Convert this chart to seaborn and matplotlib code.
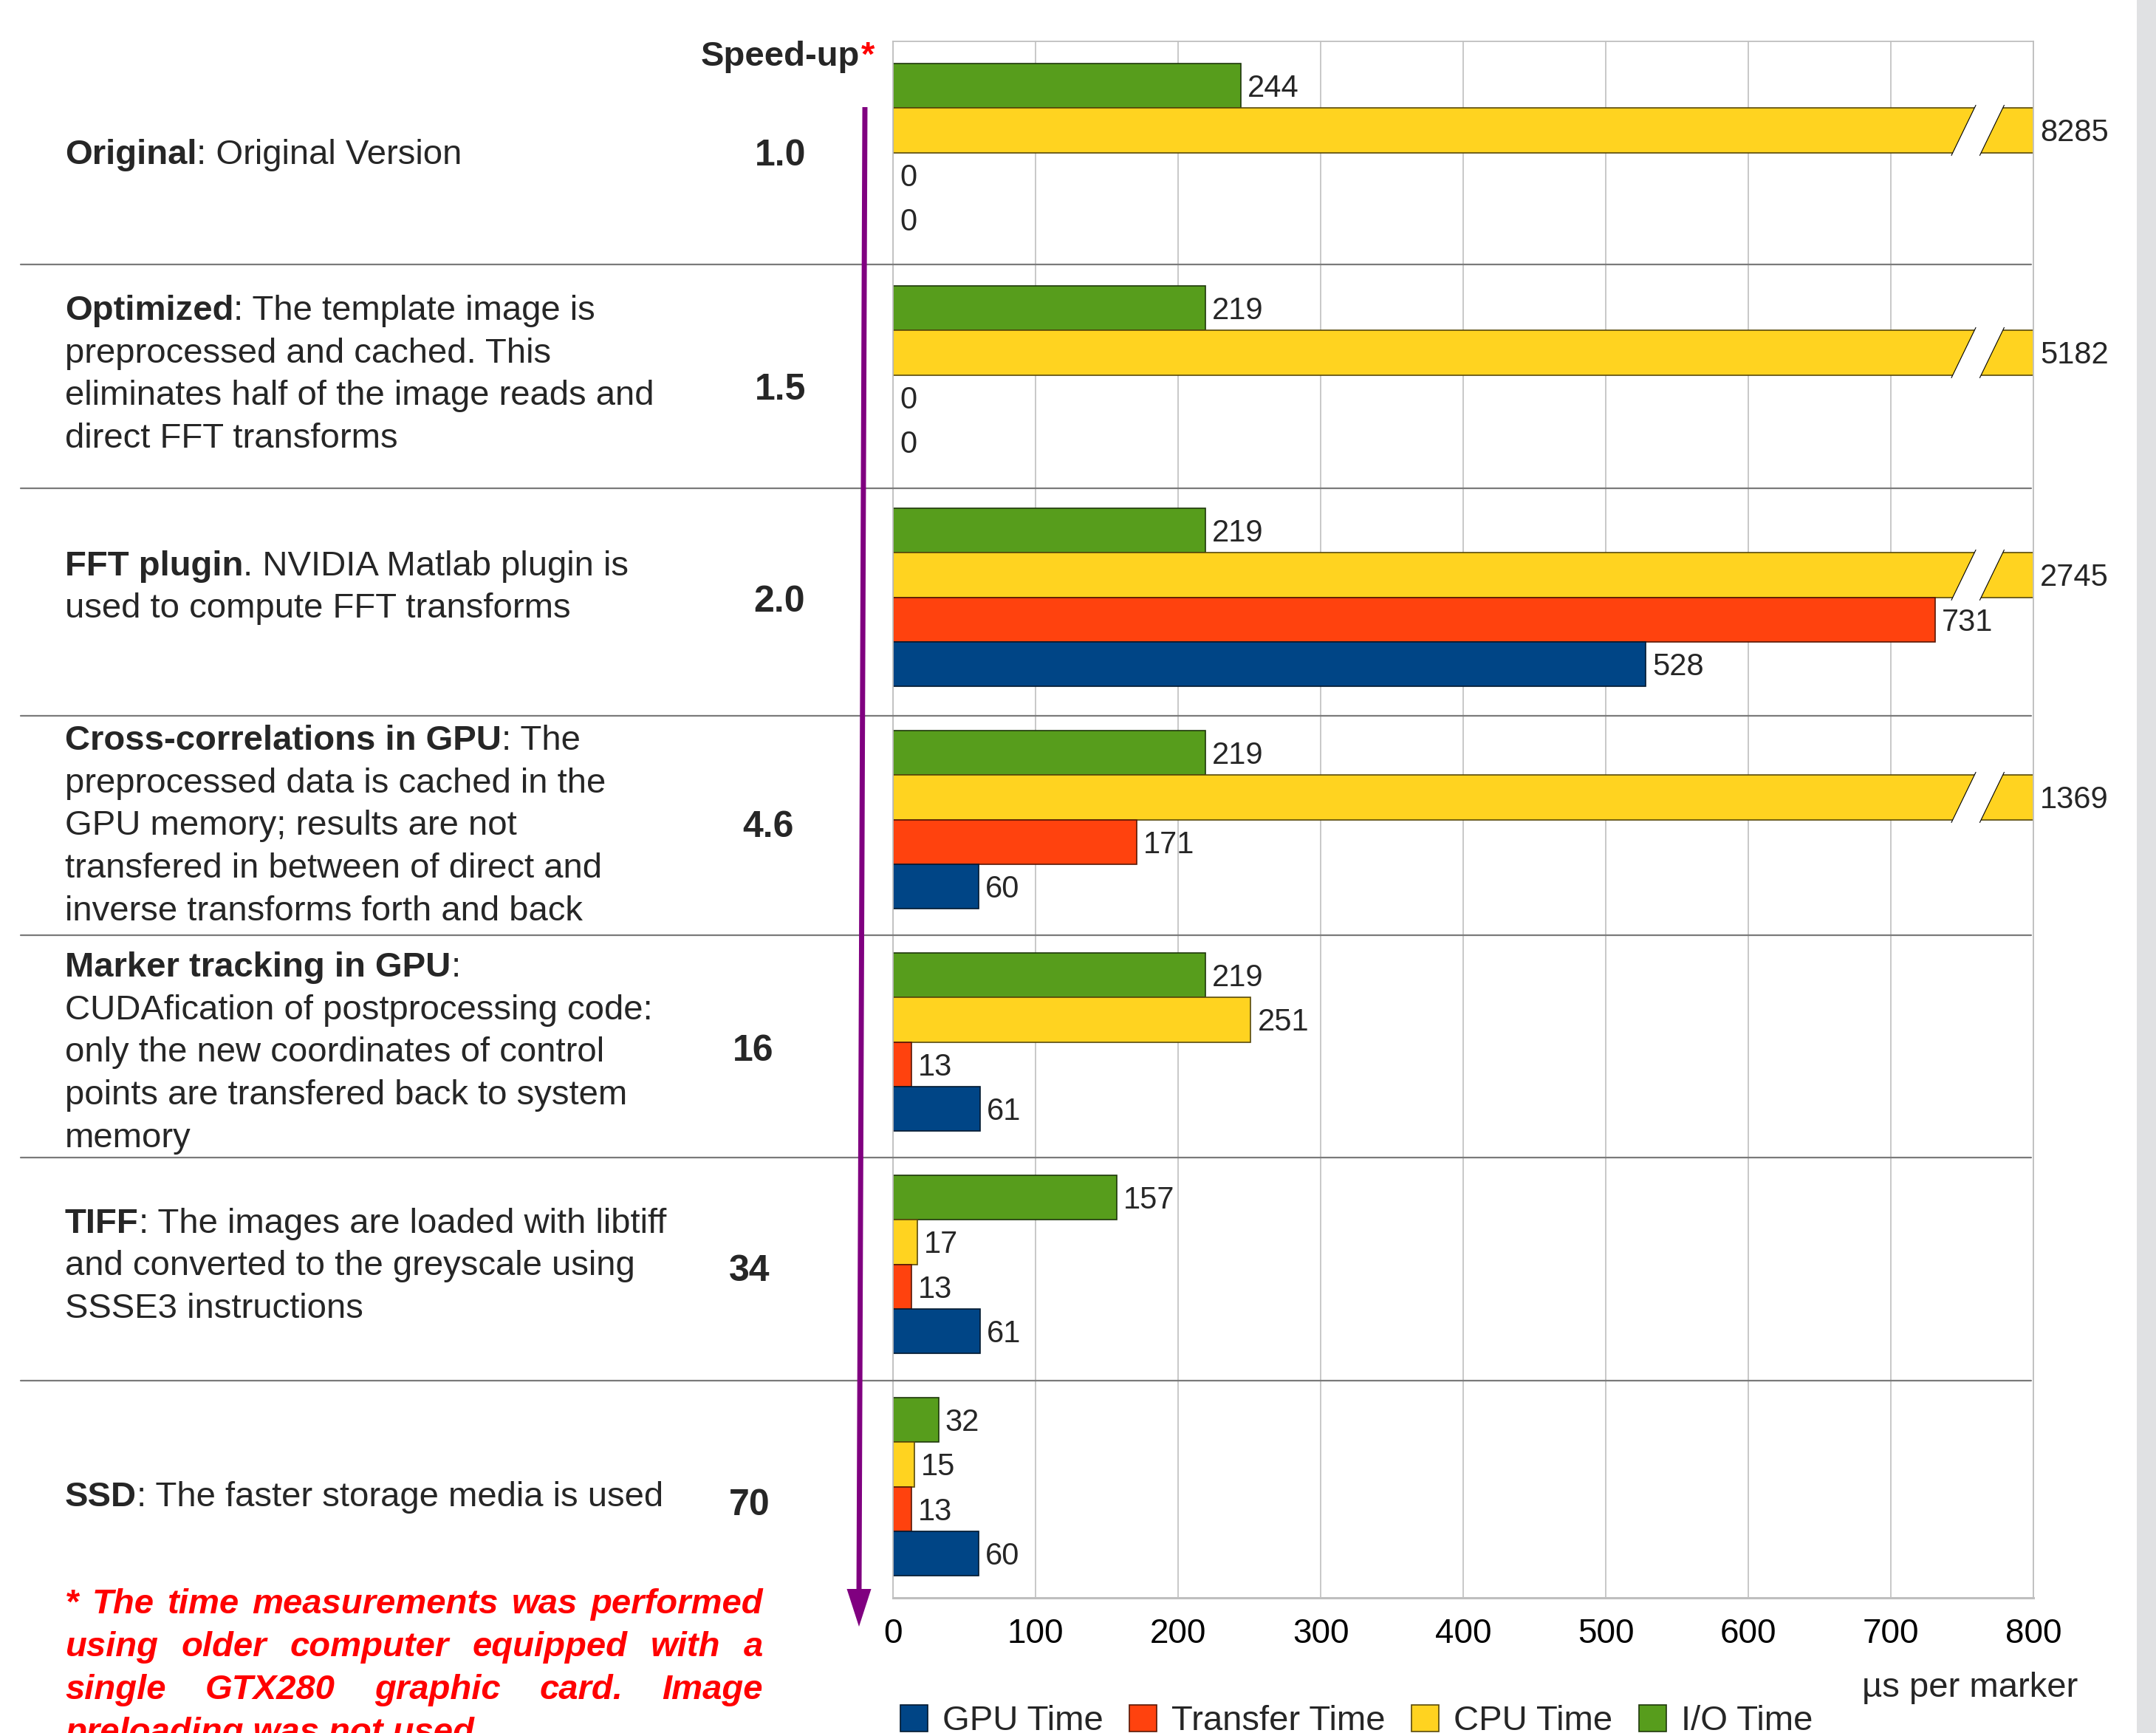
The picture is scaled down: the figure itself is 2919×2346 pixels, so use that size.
import numpy as np
import pandas as pd
import matplotlib
matplotlib.use("Agg")
import matplotlib.pyplot as plt
import matplotlib.transforms as mtransforms
from matplotlib.patches import Patch, Polygon, Rectangle
from matplotlib.lines import Line2D
import seaborn as sns

# ------------------------------------------------------------------ data
groups = ["Original", "Optimized", "FFT plugin", "Cross-correlations in GPU",
          "Marker tracking in GPU", "TIFF", "SSD"]
io_time = [244, 219, 219, 219, 219, 157, 32]
cpu_time = [8285, 5182, 2745, 1369, 251, 17, 15]
transfer_time = [0, 0, 731, 171, 13, 13, 13]
gpu_time = [0, 0, 528, 60, 61, 61, 60]
speedup = ["1.0", "1.5", "2.0", "4.6", "16", "34", "70"]

series_order = ["I/O Time", "CPU Time", "Transfer Time", "GPU Time"]
legend_order = ["GPU Time", "Transfer Time", "CPU Time", "I/O Time"]
series_colors = {"GPU Time": "#004586", "Transfer Time": "#ff420e",
                 "CPU Time": "#ffd320", "I/O Time": "#579d1c"}
x_ticks = [0, 100, 200, 300, 400, 500, 600, 700, 800]
x_max = 800
x_label = "µs per marker"
speed_header = "Speed-up"

desc_rest = [
    [": Original Version"],
    [": The template image is", "preprocessed and cached. This",
     "eliminates half of the image reads and", "direct FFT transforms"],
    [". NVIDIA Matlab plugin is", "used to compute FFT transforms"],
    [": The", "preprocessed data is cached in the", "GPU memory; results are not",
     "transfered in between of direct and", "inverse transforms forth and back"],
    [":", "CUDAfication of postprocessing code:", "only the new coordinates of control",
     "points are transfered back to system", "memory"],
    [": The images are loaded with libtiff", "and converted to the greyscale using",
     "SSSE3 instructions"],
    [": The faster storage media is used"],
]
footnote_lines = ["* The time measurements was performed",
                  "using older computer equipped with a",
                  "single GTX280 graphic card. Image",
                  "preloading was not used."]

# ------------------------------------------------------------------ layout (pixels)
W, H = 2919, 2346
AX_L, AX_R, AX_T, AX_B = 1209, 2753, 56, 2163
desc_x = 88
desc_dy = [-1, -5, -18, 4, 10, -2, 10]
speed_x = [1022, 1022, 1020, 1005, 992, 987, 987]
speed_dy = [0, 16, 2, 6, 8, 5, 21]
sep_dy = [1, 3, 10, 6, 6, 7]
line_step = 57.7


def fx(x):
    return x / W


def fy(y):
    return 1 - y / H


def darker(c, f=0.35):
    r, g, b = matplotlib.colors.to_rgb(c)
    return (r * f, g * f, b * f)


sns.set_style("white")
plt.rcParams["font.family"] = ["Liberation Sans", "DejaVu Sans"]

fig = plt.figure(figsize=(W / 100, H / 100), dpi=100)
fig.patch.set_facecolor("white")
ax = fig.add_axes([fx(AX_L), fy(AX_B), (AX_R - AX_L) / W, (AX_B - AX_T) / H])

wide = pd.DataFrame({"group": groups, "I/O Time": io_time, "CPU Time": cpu_time,
                     "Transfer Time": transfer_time, "GPU Time": gpu_time})
df = wide.melt(id_vars="group", var_name="series", value_name="value")

sns.barplot(data=df, x="value", y="group", hue="series", hue_order=series_order,
            order=groups, palette=series_colors, orient="h", width=0.8,
            dodge=True, saturation=1, errorbar=None, legend=False,
            linewidth=1.2, ax=ax)

ax.set_xlim(0, x_max)
ax.set_ylim(len(groups) - 0.5, -0.5)
ax.set_xlabel("")
ax.set_ylabel("")
ax.set_yticks([])
ax.set_xticks(x_ticks)
ax.tick_params(axis="x", length=8.6, width=1.3, color="#bfbfbf",
               labelsize=33, pad=11, labelcolor="black")
ax.grid(axis="x", color="#c4c4c4", lw=1.3)
ax.set_axisbelow(True)
for s in ax.spines.values():
    s.set_color("#bfbfbf")
    s.set_linewidth(1.3)
ax.spines["bottom"].set_linewidth(2.2)

series_vals = {"I/O Time": io_time, "CPU Time": cpu_time,
               "Transfer Time": transfer_time, "GPU Time": gpu_time}

cap_pt = 0.716 * 30
for cont, name in zip(ax.containers, series_order):
    vals = series_vals[name]
    for bar, v in zip(cont, vals):
        bar.set_edgecolor(darker(series_colors[name]))
        if v == 0:
            bar.set_linewidth(0)
        yc = bar.get_y() + bar.get_height() / 2
        ax.annotate(str(v), xy=(min(v, x_max), yc), xytext=(6.5, -cap_pt / 2),
                    textcoords="offset points", va="baseline", ha="left",
                    fontsize=30, annotation_clip=False, clip_on=False)
        if v > x_max:
            h = bar.get_height()
            yb = yc + h / 2 + 0.013
            yt = yc - h / 2 - 0.013
            poly = Polygon([(742.5, yb), (759.6, yt), (779.5, yt), (762.4, yb)],
                           closed=True, facecolor="white", edgecolor="none",
                           zorder=5, clip_on=False)
            ax.add_patch(poly)
            for (xa, xb) in [(742.5, 759.6), (762.4, 779.5)]:
                ax.plot([xa, xb], [yb, yt], color="black", lw=0.8, zorder=6,
                        clip_on=False)

# group separators
blend = mtransforms.blended_transform_factory(fig.transFigure, ax.transData)
grp_px = (AX_B - AX_T) / len(groups)
for k in range(len(groups) - 1):
    yk = k + 0.5 + sep_dy[k] / grp_px
    ax.plot([fx(28), fx(2750)], [yk, yk], transform=blend,
            color="#7a7a7a", lw=1.6, clip_on=False, zorder=3)

# text helpers
fig.canvas.draw()
renderer = fig.canvas.get_renderer()


def text_w(s, **kw):
    t = fig.text(0, 0, s, **kw)
    w = t.get_window_extent(renderer).width
    t.remove()
    return w


def gy(i):
    return H - ax.transData.transform((0, i))[1]


desc_fs = 34
desc_cap = 0.716 * desc_fs * 100 / 72
for i, (title, rest) in enumerate(zip(groups, desc_rest)):
    n = len(rest)
    cy = gy(i) + desc_dy[i]
    for j, line in enumerate(rest):
        base = cy + (j - (n - 1) / 2) * line_step + desc_cap / 2
        x = desc_x
        if j == 0:
            fig.text(fx(x), fy(base), title, fontsize=desc_fs, fontweight="bold",
                     va="baseline", ha="left")
            x += text_w(title, fontsize=desc_fs, fontweight="bold")
        fig.text(fx(x), fy(base), line, fontsize=desc_fs, va="baseline", ha="left")

# speed-up column
sp_fs = 36
sp_cap = 0.716 * sp_fs * 100 / 72
for i, s in enumerate(speedup):
    base = gy(i) + speed_dy[i] + sp_cap / 2
    fig.text(fx(speed_x[i]), fy(base), s, fontsize=sp_fs, fontweight="bold",
             va="baseline", ha="left")

fig.text(fx(949), fy(89), speed_header, fontsize=34, fontweight="bold",
         va="baseline", ha="left")
hw = text_w(speed_header, fontsize=34, fontweight="bold")
fig.text(fx(949 + hw + 1), fy(89), "*", fontsize=34, fontweight="bold",
         color="#ff0000", va="baseline", ha="left")

# purple arrow
fig.add_artist(Line2D([fx(1171), fx(1163)], [fy(145), fy(2155)],
                      color="#800080", lw=5, transform=fig.transFigure,
                      solid_capstyle="butt"))
fig.add_artist(Polygon([(fx(1146.5), fy(2151)), (fx(1179.5), fy(2151)),
                        (fx(1163), fy(2202))], closed=True,
                       facecolor="#800080", edgecolor="none",
                       transform=fig.transFigure))

# axis unit label
fig.text(fx(2813), fy(2297), x_label, fontsize=34, ha="right", va="baseline")

# legend
handles = [Patch(facecolor=series_colors[n], edgecolor=darker(series_colors[n]),
                 linewidth=1.2) for n in legend_order]
fig.legend(handles, legend_order, loc="upper left",
           bbox_to_anchor=(fx(1219), fy(2308)), ncol=4, frameon=False,
           fontsize=34, handlelength=0.78, handleheight=0.78,
           handletextpad=0.42, columnspacing=0.76, borderpad=0,
           borderaxespad=0)

# footnote (justified)
fn_kw = dict(fontsize=34, fontweight="bold", fontstyle="italic", color="#ff0000")
x0, x1 = 88, 1033
fn_base = [2184, 2242, 2300, 2358]
for k, line in enumerate(footnote_lines):
    words = line.split()
    if k < len(footnote_lines) - 1 and len(words) > 1:
        ws = [text_w(w, **fn_kw) for w in words]
        gap = (x1 - x0 - sum(ws)) / (len(words) - 1)
        x = x0
        for w, wd in zip(words, ws):
            fig.text(fx(x), fy(fn_base[k]), w, va="baseline", ha="left", **fn_kw)
            x += wd + gap
    else:
        fig.text(fx(x0), fy(fn_base[k]), line, va="baseline", ha="left", **fn_kw)

# gray strip on the right edge
fig.add_artist(Rectangle((fx(2893), 0), 26 / W, 1, transform=fig.transFigure,
                         facecolor="#e0e1e3", edgecolor="none"))

fig.savefig("out.png", dpi=100)
